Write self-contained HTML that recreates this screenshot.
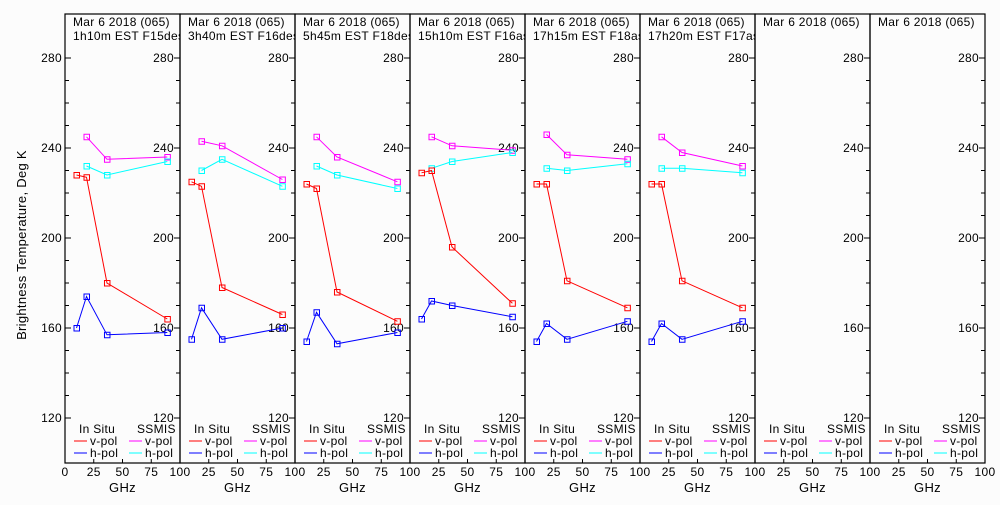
<!DOCTYPE html>
<html><head><meta charset="utf-8"><style>
html,body{margin:0;padding:0;background:#fcfcfc;}
svg text{font-family:"Liberation Sans",sans-serif;font-size:12px;fill:#000;letter-spacing:0.3px;}
</style></head><body>
<svg id="chart" width="1000" height="500" xmlns="http://www.w3.org/2000/svg">
<rect width="1000" height="500" fill="#fcfcfc"/>
<text transform="translate(26,245) rotate(-90)" text-anchor="middle" style="font-size:13px">Brightness Temperature, Deg K</text>
<g id="panels"></g>
</svg>
<script>
const headers1 = ["Mar 6 2018 (065)","Mar 6 2018 (065)","Mar 6 2018 (065)","Mar 6 2018 (065)","Mar 6 2018 (065)","Mar 6 2018 (065)","Mar 6 2018 (065)","Mar 6 2018 (065)"];
const headers2 = ["1h10m EST F15des","3h40m EST F16des","5h45m EST F18des","15h10m EST F16asc","17h15m EST F18asc","17h20m EST F17asc","",""];
const insituFreq = [10,18.7,36.5,89];
const ssmisFreq = [18.7,36.5,89];
const insituV = [[228,227,180,164],[225,223,178,166],[224,222,176,163],[229,230,196,171],[224,224,181,169],[224,224,181,169],null,null];
const insituH = [[160,174,157,158],[155,169,155,160],[154,167,153,158],[164,172,170,165],[154,162,155,163],[154,162,155,163],null,null];
const ssmisV = [[245,235,236],[243,241,226],[245,236,225],[245,241,239],[246,237,235],[245,238,232],null,null];
const ssmisH = [[232,228,234],[230,235,223],[232,228,222],[231,234,238],[231,230,233],[231,231,229],null,null];
const yTicks = [120,160,200,240,280];
const xTicks = [0,25,50,75,100];

const NS="http://www.w3.org/2000/svg";
const X0=65, PW=115, TOP=14, BOT=463;
const yS = t => 58 + (280 - t) * (360/160);
const xS = (p,f) => X0 + p*PW + f*PW/100;
const g = document.getElementById('panels');
function mk(tag, attrs, parent){const e=document.createElementNS(NS,tag);for(const k in attrs)e.setAttribute(k,attrs[k]);(parent||g).appendChild(e);return e;}

const defs = mk('defs',{});
for(let p=0;p<8;p++){
  const cp = mk('clipPath',{id:'clip'+p},defs);
  mk('rect',{x:X0+p*PW+1,y:TOP,width:PW-1,height:BOT-TOP},cp);
}

for(let p=0;p<8;p++){
  const pg = mk('g',{});
  
  
  const x0 = X0+p*PW, x1 = x0+PW;
  const fr = mk('rect',{x:x0,y:TOP,width:PW,height:BOT-TOP,fill:'none',stroke:'#000','stroke-width':1.2},pg);
  
  
  for(let t=120;t<=280;t+=10){
    const y=yS(t), len = (t%40===0)?6:4;
    mk('line',{x1:x1-len,x2:x1,y1:y,y2:y,stroke:'#000'},pg);
    if(p===0) mk('line',{x1:x0,x2:x0+len,y1:y,y2:y,stroke:'#000'},pg);
  }
  yTicks.forEach(t=>{
    const tl = mk('text',{x:x1-6,y:yS(t)+4,'text-anchor':'end'},pg);
    
    
    tl.textContent=t;
    if(p===0){
      const tl2 = mk('text',{x:x0-3,y:yS(t)+4,'text-anchor':'end'},pg);
      
      
      tl2.textContent=t;
    }
  });
  xTicks.forEach(f=>{
    const x=xS(p,f);
    mk('line',{x1:x,x2:x,y1:BOT-4,y2:BOT,stroke:'#000'},pg);
    if(f===0 && p>0) return;
    const xl = mk('text',{x:x,y:476,'text-anchor':'middle'},pg);
    
    
    xl.textContent=f;
  });
  const xt = mk('text',{x:x0+PW/2,y:492,'text-anchor':'middle',style:'font-size:13px'},pg);
  
  
  xt.textContent='GHz';
  const hg = mk('g',{'clip-path':'url(#clip'+p+')'},pg);
  const h1 = mk('text',{x:x0+8,y:26},hg);
  
  
  h1.textContent=headers1[p];
  const h2 = mk('text',{x:x0+8,y:40},hg);
  
  
  h2.textContent=headers2[p];
  const lg = mk('g',{},pg);
  
  
  const a=mk('text',{x:x0+14,y:433},lg);a.textContent='In Situ';
  const b=mk('text',{x:x0+72,y:433},lg);b.textContent='SSMIS';
  [['v-pol','#f00','#f0f',445],['h-pol','#00f','#0ff',457]].forEach(r=>{
    mk('line',{x1:x0+9,x2:x0+22,y1:r[3]-4,y2:r[3]-4,stroke:r[1]},lg);
    const t1=mk('text',{x:x0+25,y:r[3]},lg);t1.textContent=r[0];
    mk('line',{x1:x0+64,x2:x0+77,y1:r[3]-4,y2:r[3]-4,stroke:r[2]},lg);
    const t2=mk('text',{x:x0+80,y:r[3]},lg);t2.textContent=r[0];
  });
  const series=[[ssmisV[p],ssmisFreq,'#f0f','ssmis-v-pol'],[ssmisH[p],ssmisFreq,'#0ff','ssmis-h-pol'],[insituV[p],insituFreq,'#f00','insitu-v-pol'],[insituH[p],insituFreq,'#00f','insitu-h-pol']];
  series.forEach(s=>{
    if(!s[0]) return;
    const pts=s[0].map((v,i)=>xS(p,s[1][i]).toFixed(1)+','+yS(v).toFixed(1)).join(' ');
    const pl=mk('polyline',{points:pts,fill:'none',stroke:s[2],'stroke-width':1},pg);
    
    
    s[0].forEach((v,i)=>{
      const m=mk('rect',{x:xS(p,s[1][i])-2.5,y:yS(v)-2.5,width:5.5,height:5.5,fill:'none',stroke:s[2],'stroke-width':1},pg);
      
      
    });
  });
}
</script>
</body></html>
